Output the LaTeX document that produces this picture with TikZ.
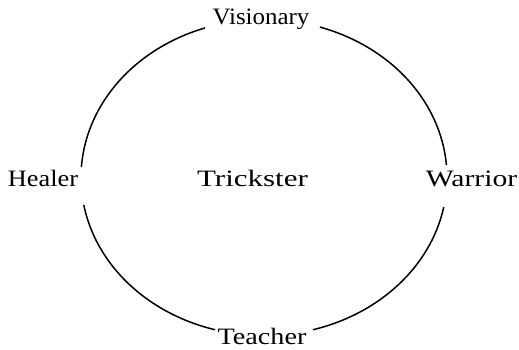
\documentclass[tikz,border=0pt]{standalone}
\usepackage{fontspec}
\usepackage{graphicx}
\setmainfont{Liberation Serif}
\begin{document}
\begin{tikzpicture}[x=1pt,y=1pt,
  lbl/.style={anchor=base,inner sep=0pt,font=\fontsize{23.5}{26}\selectfont},
  rim/.style={line width=1.5pt}]
\useasboundingbox (0,0) rectangle (519,350);
\coordinate (c) at (264,172.5);
\node[lbl] (visionary) at (261,325) {\scalebox{1.06}[1]{Visionary}};
\node[lbl] (teacher) at (262,5) {\scalebox{1.2}[1]{Teacher}};
\node[lbl] (healer) at (43,163) {\scalebox{1.12}[1]{Healer}};
\node[lbl] (warrior) at (471.5,163) {\scalebox{1.26}[1]{Warrior}};
\node[lbl] (trickster) at (252.5,163) {\scalebox{1.32}[1]{Trickster}};
\draw[rim] (c) ++(4.5:183 and 158) arc[start angle=4.5,end angle=72.2,x radius=183,y radius=158];
\draw[rim] (c) ++(108.8:183 and 158) arc[start angle=108.8,end angle=176.2,x radius=183,y radius=158];
\draw[rim] (c) ++(190:183 and 158) arc[start angle=190,end angle=254.5,x radius=183,y radius=158];
\draw[rim] (c) ++(285.5:183 and 158) arc[start angle=285.5,end angle=349.2,x radius=183,y radius=158];
\end{tikzpicture}
\end{document}
